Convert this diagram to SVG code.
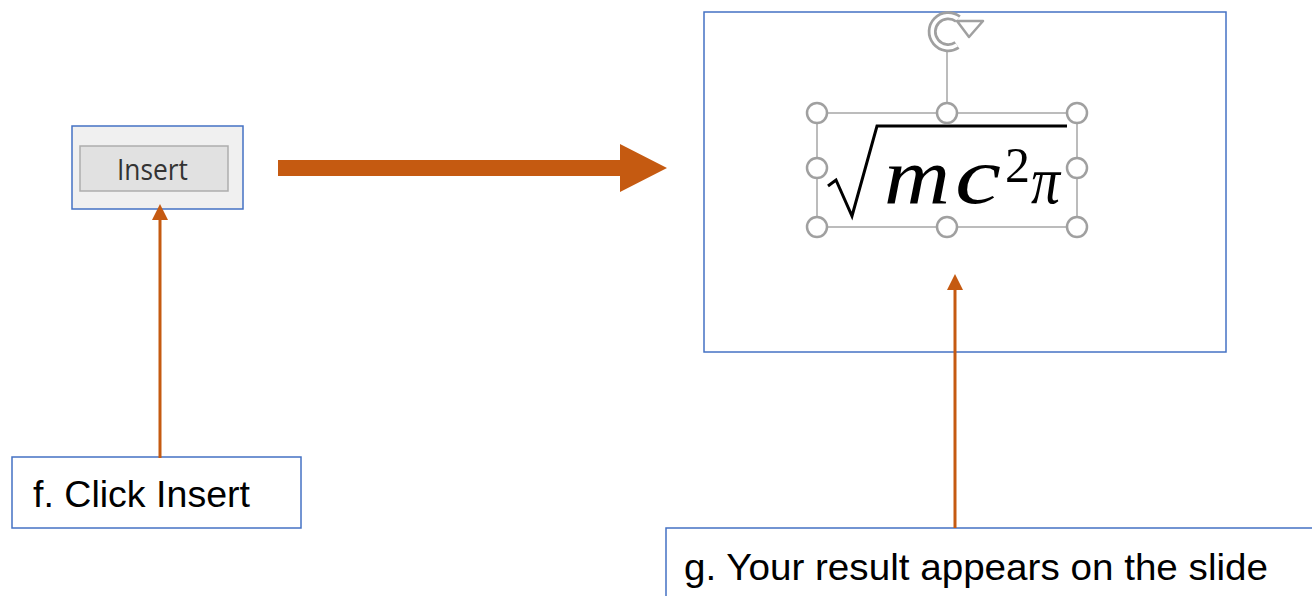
<svg xmlns="http://www.w3.org/2000/svg" width="1312" height="596" viewBox="0 0 1312 596">
<style>
.box{fill:#fff;stroke:#4472c4;stroke-width:1.5}
.lbl{font-family:"Liberation Sans",Arial,sans-serif;font-size:37px;fill:#000}
.conn{stroke:#c55a11;stroke-width:3;fill:none}
.h{fill:#fff;stroke:#a0a0a0;stroke-width:2.5}
.eq{font-family:"Liberation Serif","DejaVu Serif",serif;font-style:italic;fill:#000}
</style>
<defs>
<marker id="ah" markerUnits="userSpaceOnUse" markerWidth="16" markerHeight="18" refX="8" refY="0" orient="auto-start-reverse" viewBox="0 -9 16 18">
<path d="M0,-8 L16,0 L0,8 Z" fill="#c55a11"/>
</marker>
</defs>
<rect width="1312" height="596" fill="#fff"/>
<g id="insert-button">
<rect x="72" y="126" width="171" height="83" fill="#f0f0f0" stroke="#4472c4" stroke-width="1.5"/>
<rect x="80" y="146" width="148" height="45" fill="#e1e1e1" stroke="#adadad" stroke-width="1.5"/>
<text x="117" y="180" font-family="'Open Sans','Liberation Sans',sans-serif" font-size="29" fill="#333" textLength="71" lengthAdjust="spacingAndGlyphs">Insert</text>
</g>
<g id="slide">
<rect class="box" x="704" y="12" width="522" height="340"/>
<g id="equation">
<line x1="947" y1="48" x2="947" y2="113" stroke="#a6a6a6" stroke-width="1.5"/>
<path d="M958,19 A16,16 0 1 0 957,45" fill="none" stroke="#a0a0a0" stroke-width="9"/>
<path d="M958,19 A16,16 0 1 0 957,45" fill="none" stroke="#fff" stroke-width="3.5"/>
<path d="M957,21 L983,21 L969,37 Z" fill="#fff" stroke="#a0a0a0" stroke-width="2.5" stroke-linejoin="round"/>
<rect x="817" y="113" width="260" height="114" fill="none" stroke="#a6a6a6" stroke-width="1.5"/>
<polyline points="828,186 836,180 852,216 877,126 1067,126" fill="none" stroke="#000" stroke-width="3"/>
<text class="eq" x="884" y="203" font-size="80" textLength="66" lengthAdjust="spacingAndGlyphs">m</text>
<text class="eq" x="955" y="203" font-size="80" textLength="46" lengthAdjust="spacingAndGlyphs">c</text>
<text x="1005" y="182" font-family="'Liberation Serif','DejaVu Serif',serif" font-size="50" fill="#000" textLength="25" lengthAdjust="spacingAndGlyphs">2</text>
<text class="eq" x="1031" y="203" font-size="68" textLength="29" lengthAdjust="spacingAndGlyphs">π</text>
<circle class="h" cx="817" cy="113" r="10"/>
<circle class="h" cx="947" cy="113" r="10"/>
<circle class="h" cx="1077" cy="113" r="10"/>
<circle class="h" cx="817" cy="168" r="10"/>
<circle class="h" cx="1077" cy="168" r="10"/>
<circle class="h" cx="817" cy="227" r="10"/>
<circle class="h" cx="947" cy="227" r="10"/>
<circle class="h" cx="1077" cy="227" r="10"/>
</g>
</g>
<g id="label-f">
<rect class="box" x="12" y="457" width="289" height="71"/>
<text class="lbl" x="33" y="507" textLength="217" lengthAdjust="spacingAndGlyphs">f. Click Insert</text>
</g>
<g id="label-g">
<rect class="box" x="666" y="528" width="660" height="80"/>
<text class="lbl" x="684" y="580" textLength="584" lengthAdjust="spacingAndGlyphs">g. Your result appears on the slide</text>
</g>
<g id="connectors">
<line class="conn" x1="160" y1="458" x2="160" y2="212" marker-end="url(#ah)"/>
<line class="conn" x1="955" y1="528" x2="955" y2="282" marker-end="url(#ah)"/>
<path d="M278,160 L620,160 L620,144 L667,168 L620,192 L620,176 L278,176 Z" fill="#c55a11"/>
</g>
</svg>
